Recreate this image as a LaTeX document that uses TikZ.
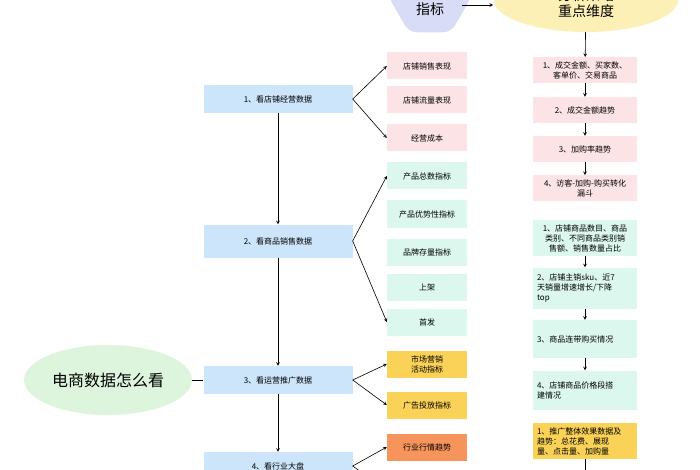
\documentclass[tikz,border=0pt]{standalone}
\usepackage{fontspec}
\setmainfont{Noto Sans CJK SC}
\usetikzlibrary{positioning}
\usetikzlibrary{shapes.geometric}
\definecolor{boxblue}{HTML}{CCE5FB}
\definecolor{boxpink}{HTML}{FCE4E6}
\definecolor{boxmint}{HTML}{DCF7EE}
\definecolor{boxyellow}{HTML}{FAD257}
\definecolor{boxorange}{HTML}{F6945C}
\definecolor{lav}{HTML}{D9DCF7}
\definecolor{ovalyellow}{HTML}{FCF0B6}
\definecolor{ovalgreen}{HTML}{DDF5DC}
\tikzset{
 stepbox/.style={fill=boxblue, minimum width=149pt, minimum height=28pt, font=\fontsize{8}{10}\selectfont},
 midbox/.style={minimum width=80pt, minimum height=27pt, align=center, font=\fontsize{8}{10}\selectfont},
 rbox/.style={minimum width=104pt, text width=96pt, align=center, inner sep=4pt, font=\fontsize{8}{10}\selectfont},
 arr/.style={->, >=stealth, line width=0.6pt},
}
\begin{document}
\begin{tikzpicture}[x=1pt, y=-1pt]
\useasboundingbox (0,0) rectangle (700,470);
\clip (0,0) rectangle (700,470);

% main oval
\node[ellipse, fill=ovalgreen, minimum width=160pt, minimum height=70pt, font=\fontsize{16}{18}\selectfont] (main) at (108,380) {电商数据怎么看};

% left column
{
\node[stepbox] (s1) at (278,99) {1、看店铺经营数据};
\node[stepbox, minimum height=33pt] (s2) at (278,241) {2、看商品销售数据};
\node[stepbox] (s3) at (278,380) {3、看运营推广数据};
\node[stepbox] (s4) at (278,466) {4、看行业大盘};
}
\draw[line width=0.6pt] (main) -- (s3);
\draw[arr] (s1) -- (s2);
\draw[arr] (s2) -- (s3);
\draw[arr] (s3) -- (s4);

% middle column
{
\node[midbox, fill=boxpink] (m1) at (427,66) {店铺销售表现};
\node[midbox, fill=boxpink] (m2) at (427,100) {店铺流量表现};
\node[midbox, fill=boxpink] (m3) at (427,138) {经营成本};
\node[midbox, fill=boxmint] (m4) at (427,176) {产品总数指标};
\node[midbox, fill=boxmint] (m5) at (427,214) {产品优势性指标};
\node[midbox, fill=boxmint] (m6) at (427,252) {品牌存量指标};
\node[midbox, fill=boxmint] (m7) at (427,287) {上架};
\node[midbox, fill=boxmint] (m8) at (427,322) {首发};
\node[midbox, fill=boxyellow] (m9) at (427,364) {市场营销\\活动指标};
\node[midbox, fill=boxyellow] (m10) at (427,405) {广告投放指标};
\node[midbox, fill=boxorange] (m11) at (427,447) {行业行情趋势};
}
\draw[arr] (s1.east) -- (m1.west);
\draw[arr] (s1.east) -- (m3.west);
\draw[arr] (s2.east) -- (m4.west);
\draw[arr] (s2.east) -- (m8.west);
\draw[arr] (s3.east) -- (m9.west);
\draw[arr] (s3.east) -- (m10.west);
\draw[arr] (s4.east) -- (m11.west);
\coordinate (low) at (386,490);
\draw[arr] (s4.east) -- (low);

% top
\node[regular polygon, regular polygon sides=6, fill=lav, rounded corners=8pt, minimum size=84pt] (key) at (430,-4) {};
\node[font=\fontsize{14}{16}\selectfont, align=center] (keyt) at (430,1) {关键\\指标};
\node[ellipse, fill=ovalyellow, minimum width=184pt, minimum height=64pt] (plan) at (586,0) {};
\node[font=\fontsize{14}{16}\selectfont, align=center] (plant) at (586,3) {分析策略\\重点维度};
\coordinate (keyr) at (462,5);
\coordinate (planl) at (493,5);
\draw[arr] (keyr) -- (planl);

% right column
{
\node[rbox, fill=boxpink] (r1) at (585,70) {1、成交金额、买家数、\\客单价、交易商品};
\node[rbox, fill=boxpink, minimum height=26pt] (r2) at (585,110) {2、成交金额趋势};
\node[rbox, fill=boxpink, minimum height=26pt] (r3) at (585,149) {3、加购率趋势};
\node[rbox, fill=boxpink] (r4) at (585,188) {4、访客-加购-购买转化\\漏斗};
\node[rbox, fill=boxmint] (r5) at (585,238) {1、店铺商品数目、商品\\类别、不同商品类别销\\售额、销售数量占比};
\node[rbox, fill=boxmint, align=left, minimum height=41pt] (r6) at (585,288) {2、店铺主销sku、近7\\天销量增速增长/下降\\top};
\node[rbox, fill=boxmint, align=left, minimum height=38pt] (r7) at (585,339) {3、商品连带购买情况};
\node[rbox, fill=boxmint, align=left, minimum height=39pt] (r8) at (585,390) {4、店铺商品价格段搭\\建情况};
\node[rbox, fill=boxyellow, align=left] (r9) at (585,441) {1、推广整体效果数据及\\趋势：总花费、展现\\量、点击量、加购量};
}
\draw[arr] (plan) -- (r1);
\draw[arr] (r1) -- (r2);
\draw[arr] (r2) -- (r3);
\draw[arr] (r3) -- (r4);
\draw[arr] (r5) -- (r6);
\draw[arr] (r6) -- (r7);
\draw[arr] (r7) -- (r8);
\coordinate (rlow) at (585,480);
\draw[arr] (r9) -- (rlow);

\end{tikzpicture}
\end{document}
